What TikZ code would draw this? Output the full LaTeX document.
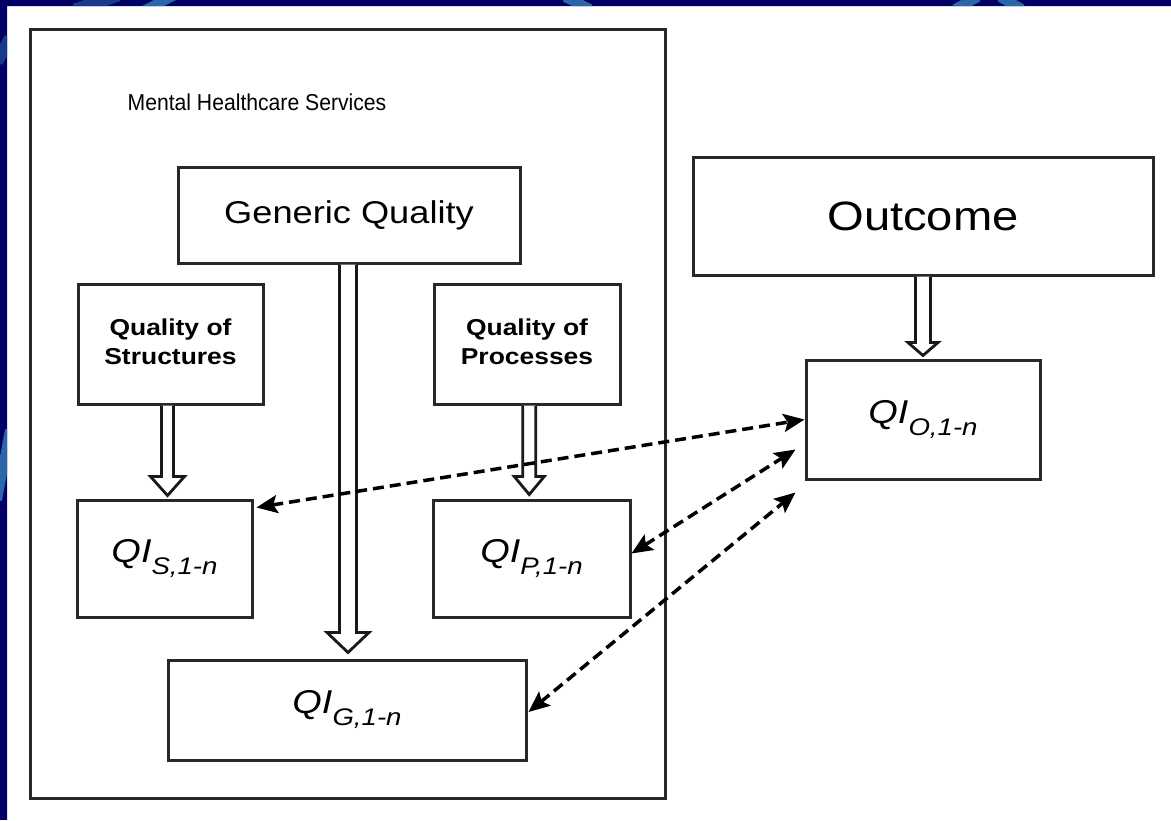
\documentclass[tikz,border=0pt]{standalone}
\usepackage{fontspec}
\setmainfont{Liberation Sans}
\usetikzlibrary{arrows.meta,calc}

\definecolor{navy}{RGB}{0,0,102}
\definecolor{streakmid}{RGB}{24,58,138}
\definecolor{streaklight}{RGB}{42,102,168}
\definecolor{frame}{RGB}{40,40,40}

% slightly widened sans text
\newcommand{\stretchtext}[1]{\scalebox{1.15}[1]{#1}}
% quality indicator label QI with its index
\newcommand{\qilabel}[1]{\stretchtext{\fontsize{33}{36}\selectfont\itshape QI\raisebox{-12pt}{\fontsize{24}{26}\selectfont #1}}}

% hollow block arrow from the bottom of #1 to the top of #2
% #3 shaft half width, #4 head half width, #5 head length, #6 gap above target
\newcommand{\hollowarrow}[6]{%
  \path[hollow] let \p1=(#1.south), \p2=(#2.north) in
    (\x1*0.5+\x2*0.5-#3,\y1) -- (\x1*0.5+\x2*0.5-#3,\y2+#6+#5)
    -- (\x1*0.5+\x2*0.5-#4,\y2+#6+#5) -- (\x1*0.5+\x2*0.5,\y2+#6)
    -- (\x1*0.5+\x2*0.5+#4,\y2+#6+#5) -- (\x1*0.5+\x2*0.5+#3,\y2+#6+#5)
    -- (\x1*0.5+\x2*0.5+#3,\y1);
}

\tikzset{
  box/.style={draw=frame, line width=3pt, fill=white, inner sep=0pt, align=center},
  hollow/.style={draw=black!90, line width=2.8pt, fill=white, line join=miter},
  dasharrow/.style={draw=black, line width=3.5pt, dash pattern=on 11pt off 6pt,
    {Stealth[length=21pt,width=18pt,inset=4pt]}-{Stealth[length=21pt,width=18pt,inset=4pt]}},
}

\begin{document}
\begin{tikzpicture}[x=1pt,y=-1pt]
  \useasboundingbox (0,0) rectangle (1171,820);
  \fill[white] (0,0) rectangle (1171,820);

  % dark blue edge band with lighter streaks
  \begin{scope}
    \clip (0,0) rectangle (1171,6) (0,0) rectangle (7,820);
    \fill[navy] (0,0) rectangle (1171,820);
    \draw[streakmid, line width=13pt] (75,10) -- (118,-5);
    \draw[streaklight, line width=10pt] (145,10) -- (175,-5);
    \draw[streaklight, line width=10pt] (565,-3) -- (590,9);
    \draw[streaklight, line width=10pt] (955,9) -- (978,-3);
    \draw[streaklight, line width=10pt] (1000,-3) -- (1022,9);
    \draw[streakmid, line width=12pt] (-3,62) -- (10,38);
    \draw[streaklight, line width=10pt] (-3,500) -- (10,430);
  \end{scope}

  % services frame
  \node[box, minimum width=635pt, minimum height=769pt] (mhs) at (347.5,413.5) {};
  \node (title) at (257,102) {\fontsize{23}{26}\selectfont\scalebox{0.92}[1]{Mental Healthcare Services}};

  % quality dimensions
  \node[box, minimum width=342pt, minimum height=96pt] (gen) at (349,215)
    {\fontsize{31.5}{36}\selectfont\stretchtext{Generic Quality}};
  \node[box, minimum width=185pt, minimum height=120pt] (qs) at (170.5,344)
    {\stretchtext{\fontsize{23}{29}\selectfont\bfseries\begin{tabular}{@{}c@{}}Quality of\\Structures\end{tabular}}};
  \node[box, minimum width=186pt, minimum height=120pt] (qp) at (527,344)
    {\stretchtext{\fontsize{23}{29}\selectfont\bfseries\begin{tabular}{@{}c@{}}Quality of\\Processes\end{tabular}}};

  % quality indicators
  \node[box, minimum width=175pt, minimum height=117pt] (qis) at (164.5,558.5) {\qilabel{S,1-n}};
  \node[box, minimum width=197pt, minimum height=117pt] (qip) at (531.5,558.5) {\qilabel{P,1-n}};
  \node[box, minimum width=358pt, minimum height=100pt] (qig) at (347,710) {\qilabel{G,1-n}};

  % outcome side
  \node[box, minimum width=460pt, minimum height=118pt] (out) at (923,216)
    {\fontsize{41}{46}\selectfont\stretchtext{Outcome}};
  \node[box, minimum width=234pt, minimum height=119pt] (qio) at (923,419.5) {\qilabel{O,1-n}};

  % derivation arrows
  \hollowarrow{qs}{qis}{6pt}{17pt}{19pt}{3pt}
  \hollowarrow{qp}{qip}{6.5pt}{15pt}{18pt}{4pt}
  \hollowarrow{gen}{qig}{8.5pt}{21pt}{20pt}{6pt}
  \hollowarrow{out}{qio}{7.5pt}{15pt}{13pt}{3pt}

  % links between indicators and outcome indicators
  \coordinate (tipA) at ($(qio.south west)+(-9,-31)$);
  \coordinate (tipB) at ($(qio.south west)+(-9,12)$);
  \draw[dasharrow] ($(qis.north east)+(3,9)$) -- (qio.west);
  \draw[dasharrow] ($(qip.east)+(0,-5)$) -- (tipA);
  \draw[dasharrow] ($(qig.east)+(1,2)$) -- (tipB);
\end{tikzpicture}
\end{document}
